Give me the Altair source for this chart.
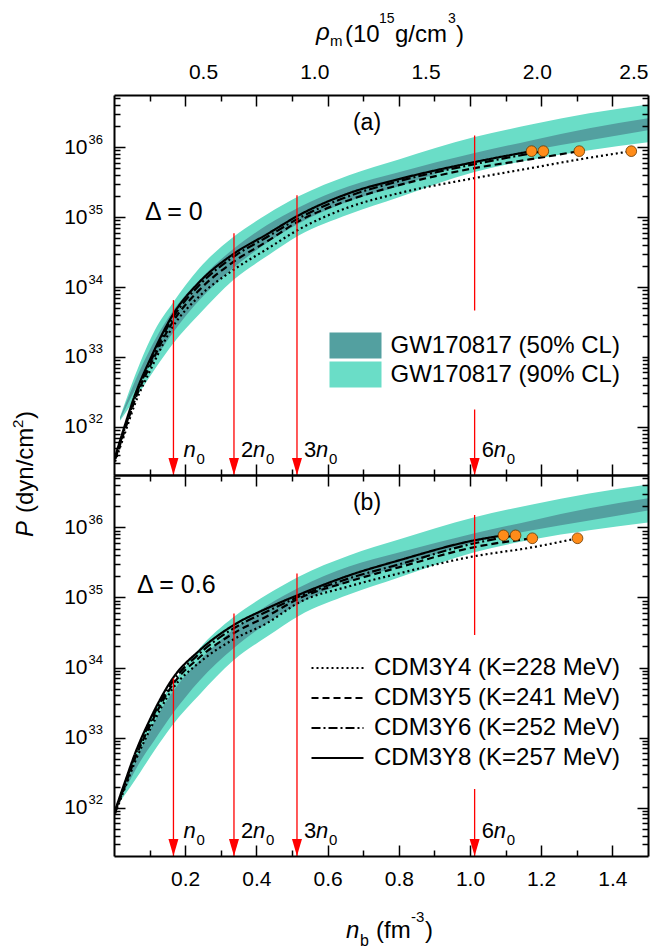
import altair as alt
import pandas as pd

# ---------------- data ----------------
band_n = [0.017, 0.073, 0.115, 0.165, 0.24, 0.335, 0.43, 0.52, 0.66, 0.80, 1.01, 1.175, 1.335, 1.5]
band90_hi = [1.39e32, 8.2e32, 2.43e33, 5.9e33, 1.87e34, 5.2e34, 1.10e35, 2.0e35, 3.98e35, 6.7e35, 1.39e36, 2.13e36, 3.06e36, 4.1e36]
band90_lo = [1.22e32, 3.16e32, 6.7e32, 1.53e33, 4.1e33, 1.26e34, 2.77e34, 5.5e34, 1.10e35, 1.93e35, 4.4e35, 6.7e35, 9.1e35, 1.18e36]
band50_hi = [1.35e32, 6.5e32, 1.75e33, 4.5e33, 1.26e34, 3.5e34, 7.7e34, 1.39e35, 2.77e35, 4.4e35, 8.2e35, 1.26e36, 1.87e36, 2.6e36]
band50_lo = [1.26e32, 4.5e32, 9.4e32, 2.2e33, 6.5e33, 1.87e34, 4.3e34, 8.2e34, 1.69e35, 2.77e35, 6.1e35, 9.1e35, 1.26e36, 1.75e36]

eos_names = ["CDM3Y4 (K=228 MeV)", "CDM3Y5 (K=241 MeV)", "CDM3Y6 (K=252 MeV)", "CDM3Y8 (K=257 MeV)"]
curve_n = [0.003, 0.031, 0.059, 0.101, 0.165, 0.24, 0.335, 0.43, 0.52, 0.66, 0.80, 1.01]

# panel (a): Delta = 0
a_y4_n = curve_n + [1.167, 1.307, 1.453]
a_y4_P = [3.16e31, 8.2e31, 2.13e32, 6.3e32, 2.69e33, 7.4e33, 1.75e34, 3.5e34, 6.7e34, 1.39e35, 2.2e35, 3.6e35, 5.0e35, 6.7e35, 8.8e35]
a_y5_n = curve_n + [1.167, 1.307]
a_y5_P = [3.4e31, 9.1e31, 2.43e32, 7.4e32, 3.16e33, 9.1e33, 2.28e34, 4.5e34, 8.8e34, 1.75e35, 2.87e35, 5.0e35, 6.7e35, 8.8e35]
a_y6_n = curve_n + [1.206]
a_y6_P = [3.5e31, 9.7e31, 2.6e32, 8.2e32, 3.6e33, 1.07e34, 2.69e34, 5.2e34, 9.7e34, 2.0e35, 3.27e35, 5.7e35, 8.8e35]
a_y8_n = curve_n + [1.173]
a_y8_P = [3.7e31, 1.07e32, 2.87e32, 9.1e32, 3.98e33, 1.18e34, 2.96e34, 5.7e34, 1.07e35, 2.2e35, 3.5e35, 6.1e35, 8.8e35]
a_pts_n = [1.173, 1.206, 1.307, 1.453]
a_pts_P = [8.8e35, 8.8e35, 8.8e35, 8.8e35]
a_arrow_P = [6.5e33, 5.9e34, 2.06e35, 1.48e36]

# panel (b): Delta = 0.6
b_y4_n = curve_n + [1.175, 1.302]
b_y4_P = [8.2e31, 1.93e32, 4.5e32, 1.30e33, 5.0e33, 1.18e34, 2.51e34, 4.3e34, 8.5e34, 1.44e35, 2.2e35, 3.86e35, 5.2e35, 7.0e35]
b_y5_n = curve_n + [1.175]
b_y5_P = [8.5e31, 2.06e32, 5.0e32, 1.48e33, 5.7e33, 1.39e34, 3.06e34, 5.4e34, 9.7e34, 1.69e35, 2.69e35, 5.2e35, 7.0e35]
b_y6_n = curve_n + [1.128]
b_y6_P = [8.8e31, 2.2e32, 5.5e32, 1.64e33, 6.3e33, 1.58e34, 3.6e34, 6.3e34, 1.03e35, 1.87e35, 2.96e35, 5.9e35, 7.7e35]
b_y8_n = curve_n + [1.094]
b_y8_P = [9.1e31, 2.35e32, 5.9e32, 1.81e33, 7.0e33, 1.75e34, 4.0e34, 7.0e34, 1.10e35, 2.06e35, 3.38e35, 6.5e35, 7.7e35]
b_pts_n = [1.094, 1.128, 1.175, 1.302]
b_pts_P = [7.7e35, 7.7e35, 7.0e35, 7.0e35]
b_arrow_P = [7.0e33, 5.9e34, 2.2e35, 1.5e36]

arrow_n = [0.167, 0.337, 0.514, 1.013]
arrow_prefix = ["", "2", "3", "6"]

x_labels = [0.2, 0.4, 0.6, 0.8, 1.0, 1.2, 1.4]
rho_labels = [0.5, 1.0, 1.5, 2.0, 2.5]
decades = [1e32, 1e33, 1e34, 1e35, 1e36]

# ---------------- style ----------------
FONT = "Liberation Sans"
W = 534
YMIN, YMAX = 2.04e31, 5.6e36
LIGHT = "#6ADDC7"
DARK = "#53A0A0"
RED = "#FF0000"
ORANGE = "#FF8C1A"

x_ticks = [round(0.1 * i, 1) for i in range(1, 15)]
y_ticks = [k * 10.0 ** e for e in range(31, 37) for k in range(1, 10) if YMIN <= k * 10.0 ** e <= YMAX]
MAJOR_X = "abs(datum.value*5 - round(datum.value*5)) < 0.01"
MAJOR_Y = "abs(log(datum.value)/LN10 - round(log(datum.value)/LN10)) < 0.01"


def xs():
    return alt.Scale(domain=[0, 1.5], nice=False, zero=False)


def ys():
    return alt.Scale(type="log", domain=[YMIN, YMAX], nice=False)


def XN(field="n"):
    return alt.X(f"{field}:Q", scale=xs(), axis=None)


def YP(field="P"):
    return alt.Y(f"{field}:Q", scale=ys(), axis=None)


def tick_axis(orient, offset, values, test):
    return alt.Axis(orient=orient, offset=offset, values=values, labels=False, title=None,
                    ticks=True, tickSize={"condition": {"test": test, "value": 11}, "value": 6},
                    tickWidth=1.5, tickColor="black", domain=True, domainWidth=2,
                    domainColor="black", grid=False, zindex=1)


frame_df = pd.DataFrame({"n": [0.0, 1.5], "P": [YMIN, YMAX]})


def frame_layer(xorient, xoff, yorient, yoff):
    return alt.Chart(frame_df).mark_point(opacity=0).encode(
        x=alt.X("n:Q", scale=xs(), axis=tick_axis(xorient, xoff, x_ticks, MAJOR_X)),
        y=alt.Y("P:Q", scale=ys(), axis=tick_axis(yorient, yoff, y_ticks, MAJOR_Y)))


def txt(text, x, y, size, align="left", baseline="alphabetic", italic=False, angle=0):
    kw = dict(align=align, baseline=baseline, fontSize=size, font=FONT, color="black")
    if italic:
        kw["fontStyle"] = "italic"
    if angle:
        kw["angle"] = angle
    return alt.Chart(pd.DataFrame({"t": [text]})).mark_text(**kw).encode(
        x=alt.value(x), y=alt.value(y), text="t:N")


def eos_frame(series):
    rows = []
    for name, ns, ps in series:
        for n, p in zip(ns, ps):
            rows.append({"n": n, "P": p, "eos": name})
    return pd.DataFrame(rows)


def panel(H, series, pts_n, pts_P, arrow_P, delta, tag, is_top):
    layers = []
    d90 = pd.DataFrame({"n": band_n, "lo": band90_lo, "hi": band90_hi, "band": "GW170817 (90% CL)"})
    d50 = pd.DataFrame({"n": band_n, "lo": band50_lo, "hi": band50_hi, "band": "GW170817 (50% CL)"})
    if is_top:
        leg = alt.Legend(title=None, orient="none", legendX=206.5, legendY=215.5,
                         symbolType="M-2,-1H2V1H-2Z", symbolSize=676, symbolStrokeWidth=0,
                         symbolOpacity=1, labelFont=FONT, labelFontSize=24, labelColor="black",
                         labelOffset=22, labelLimit=500, rowPadding=3, padding=22,
                         fillColor="white", zindex=1)
        cs = alt.Scale(domain=["GW170817 (50% CL)", "GW170817 (90% CL)"], range=[DARK, LIGHT])
        for d in (d90, d50):
            layers.append(alt.Chart(d).mark_area(interpolate="monotone", clip=True, opacity=1).encode(
                x=XN(), y=YP("lo"), y2="hi:Q", color=alt.Color("band:N", scale=cs, legend=leg)))
    else:
        for d, c in ((d90, LIGHT), (d50, DARK)):
            layers.append(alt.Chart(d).mark_area(interpolate="monotone", clip=True, color=c, opacity=1).encode(
                x=XN(), y=YP("lo"), y2="hi:Q"))

    ds = alt.Scale(domain=eos_names, range=[[2, 3], [7, 4], [9, 3, 2, 3], [1, 0]])
    if is_top:
        dleg = None
    else:
        dleg = alt.Legend(title=None, orient="none", legendX=190.5, legendY=160,
                          symbolType="M-2,0H2", symbolSize=676, symbolStrokeWidth=2,
                          symbolStrokeColor="black", symbolFillColor="transparent",
                          labelFont=FONT, labelFontSize=24, labelColor="black",
                          labelOffset=22.5, labelLimit=500, rowPadding=4, padding=19,
                          fillColor="white", zindex=1)
    layers.append(alt.Chart(eos_frame(series)).mark_line(color="black", strokeWidth=2.2, clip=True,
                                                          interpolate="monotone").encode(
        x=XN(), y=YP(), strokeDash=alt.StrokeDash("eos:N", scale=ds, legend=dleg)))

    adf = pd.DataFrame({"n": arrow_n, "Ptop": arrow_P, "prefix": arrow_prefix})
    layers.append(alt.Chart(adf).mark_rule(color=RED, strokeWidth=1.3).encode(
        x=XN(), y=YP("Ptop"), y2=alt.value(H)))
    layers.append(alt.Chart(adf).mark_point(shape="M-1,-3.4L1,-3.4L0,0Z", filled=True, color=RED,
                                            size=100, opacity=1).encode(x=XN(), y=alt.value(H)))
    pdf = pd.DataFrame({"n": pts_n, "P": pts_P})
    layers.append(alt.Chart(pdf).mark_point(filled=True, shape="circle", size=115, fill=ORANGE,
                                            stroke="#6B3800", strokeWidth=0.8, opacity=1).encode(
        x=XN(), y=YP()))

    # n0 labels
    withp = "datum.prefix != ''"
    nop = "datum.prefix == ''"
    base = alt.Chart(adf)
    layers.append(base.transform_filter(withp).mark_text(align="left", baseline="alphabetic", dx=7, dy=-18,
                                                         fontSize=22, font=FONT, color="black").encode(
        x=XN(), y=alt.value(H), text="prefix:N"))
    layers.append(base.transform_filter(nop).mark_text(text="n", align="left", baseline="alphabetic", dx=10,
                                                       dy=-18, fontSize=22, font=FONT, fontStyle="italic",
                                                       color="black").encode(x=XN(), y=alt.value(H)))
    layers.append(base.transform_filter(withp).mark_text(text="n", align="left", baseline="alphabetic", dx=19,
                                                         dy=-18, fontSize=22, font=FONT, fontStyle="italic",
                                                         color="black").encode(x=XN(), y=alt.value(H)))
    layers.append(base.transform_filter(nop).mark_text(text="0", align="left", baseline="alphabetic", dx=23,
                                                       dy=-11, fontSize=15, font=FONT,
                                                       color="black").encode(x=XN(), y=alt.value(H)))
    layers.append(base.transform_filter(withp).mark_text(text="0", align="left", baseline="alphabetic", dx=32,
                                                         dy=-11, fontSize=15, font=FONT,
                                                         color="black").encode(x=XN(), y=alt.value(H)))

    # panel texts
    layers.append(txt(tag, 253, 28, 23, align="center", baseline="middle"))
    if is_top:
        layers.append(txt(delta, 31, 117, 25, baseline="middle"))
    else:
        layers.append(txt(delta, 23, 110, 25, baseline="middle"))

    # label axes
    ld = pd.DataFrame({"n": [0.0, 1.5], "P": [YMIN, YMAX]})
    xlab = None
    if not is_top:
        xlab = alt.Axis(orient="bottom", values=x_labels, format=".1f", ticks=False, domain=False,
                        labelPadding=12, labelFontSize=21, labelFont=FONT, labelColor="black",
                        title=None, grid=False)
    layers.append(alt.Chart(ld).mark_point(opacity=0).encode(
        x=alt.X("n:Q", scale=xs(), axis=xlab),
        y=alt.Y("P:Q", scale=ys(), axis=alt.Axis(orient="left", values=decades, labelExpr="'10'",
                                                  ticks=False, domain=False, labelPadding=27,
                                                  labelFontSize=21, labelFont=FONT, labelColor="black",
                                                  title=None, grid=False))))
    expo_axis = alt.Axis(orient="left", values=decades, labelExpr="'' + round(log(datum.value)/LN10)",
                         ticks=False, domain=False, labelPadding=26, labelAlign="left", labelOffset=-8,
                         labelFontSize=13, labelFont=FONT, labelColor="black", title=None, grid=False)
    if is_top:
        rdf = pd.DataFrame({"rho": [0.1, 2.5], "P": [YMIN, YMAX]})
        layers.append(alt.Chart(rdf).mark_point(opacity=0).encode(
            x=alt.X("rho:Q", scale=alt.Scale(domain=[0.1, 2.5], nice=False, zero=False),
                    axis=alt.Axis(orient="top", values=rho_labels, format=".1f", ticks=False, domain=False,
                                  labelPadding=13, labelFontSize=21, labelFont=FONT, labelColor="black",
                                  title=None, grid=False)),
            y=alt.Y("P:Q", scale=ys(), axis=expo_axis)))
    else:
        layers.append(alt.Chart(ld).mark_point(opacity=0).encode(
            x=alt.X("n:Q", scale=xs(), axis=None),
            y=alt.Y("P:Q", scale=ys(), axis=expo_axis)))

    # inward tick frames
    layers.append(frame_layer("top", -H, "right", -W))
    layers.append(frame_layer("bottom", -H, "left", -W))

    if is_top:
        # layout anchor (top-left corner of the figure)
        layers.append(alt.Chart(pd.DataFrame({"a": [0]})).mark_rule(opacity=0).encode(
            x=alt.value(-114), x2=alt.value(-113), y=alt.value(-95), y2=alt.value(-94)))
        # rho_m title
        layers += [txt("\u03c1", 202, -55, 24, italic=True), txt("m", 216, -49, 15),
                   txt("(10", 231, -53, 24), txt("15", 265, -72, 14), txt("g/cm", 281, -53, 24),
                   txt("3", 334, -72, 14), txt(")", 342, -53, 24)]
        # y title
        layers += [txt("P", -81, 442, 24, italic=True, angle=270), txt("(dyn/cm", -81, 418, 24, angle=270),
                   txt("2", -91, 333, 15, angle=270), txt(")", -81, 324, 24, angle=270)]
    else:
        layers += [txt("n", 232, 463, 24, italic=True), txt("b", 246, 471, 16),
                   txt("(fm", 262, 463, 24), txt("-3", 297, 447, 15), txt(")", 311, 463, 24)]

    return alt.layer(*layers).resolve_scale(x="independent", y="independent").properties(width=W, height=H)


top = panel(380,
            [(eos_names[0], a_y4_n, a_y4_P), (eos_names[1], a_y5_n, a_y5_P),
             (eos_names[2], a_y6_n, a_y6_P), (eos_names[3], a_y8_n, a_y8_P)],
            a_pts_n, a_pts_P, a_arrow_P, "\u0394 = 0", "(a)", True)
bottom = panel(381,
               [(eos_names[0], b_y4_n, b_y4_P), (eos_names[1], b_y5_n, b_y5_P),
                (eos_names[2], b_y6_n, b_y6_P), (eos_names[3], b_y8_n, b_y8_P)],
               b_pts_n, b_pts_P, b_arrow_P, "\u0394 = 0.6", "(b)", False)

chart = alt.vconcat(top, bottom, spacing=0, bounds="flush").resolve_scale(
    x="independent", y="independent", color="independent", strokeDash="independent"
).resolve_legend(color="independent", strokeDash="independent").properties(padding=0).configure(
    font=FONT).configure_view(stroke=None)

chart.save("out.html", embed_options={"renderer": "svg", "actions": False})
